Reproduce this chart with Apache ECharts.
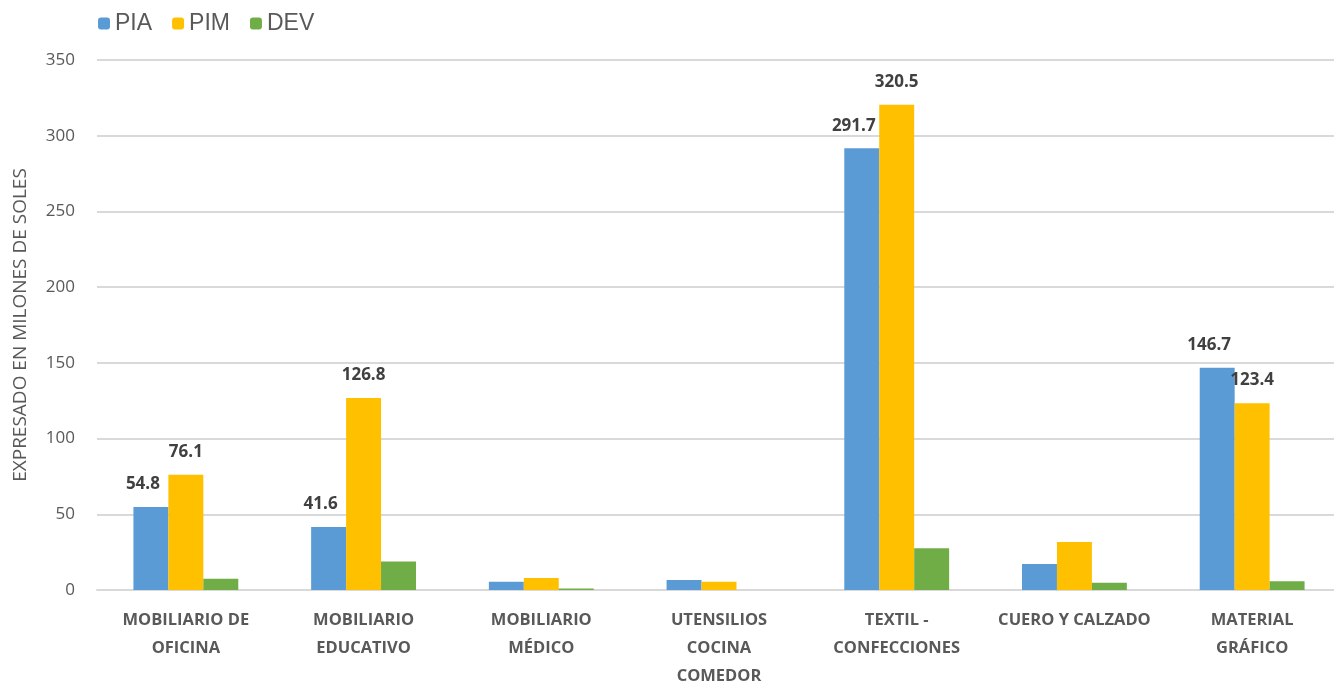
<!DOCTYPE html>
<html><head><meta charset="utf-8">
<script src="https://cdn.jsdelivr.net/npm/echarts@6/dist/echarts.min.js"></script>
<style>html,body{margin:0;padding:0;background:#fff}#c{width:1334px;height:685px}</style>
</head><body><div id="c"></div>
<script>
const categories = ['MOBILIARIO DE\nOFICINA','MOBILIARIO\nEDUCATIVO','MOBILIARIO\nMÉDICO','UTENSILIOS\nCOCINA\nCOMEDOR','TEXTIL -\nCONFECCIONES','CUERO Y CALZADO','MATERIAL\nGRÁFICO'];
const pia = [54.8, 41.6, 5.5, 6.6, 291.7, 17.2, 146.7];
const pim = [76.1, 126.8, 7.9, 5.5, 320.5, 31.7, 123.4];
const dev = [7.5, 18.8, 1.0, 0, 27.5, 4.8, 5.7];
const labeledPIA = [true, true, false, false, true, false, true];
const labeledPIM = [true, true, false, false, true, false, true];

const lbl = {show:true, position:'top', distance:14, fontSize:17, fontWeight:'bold', color:'#404040', fontFamily:'Open Sans', formatter: p => p.value.toFixed(1)};
function mk(vals, flags, off){
  return vals.map((v,i)=>({value:v, label: flags[i] ? Object.assign({}, lbl, {offset: off}) : {show:false}}));
}
const chart = echarts.init(document.getElementById('c'));
chart.setOption({
  animation:false,
  textStyle:{fontFamily:'Open Sans'},
  legend:{left:93, top:7, itemWidth:12, itemHeight:12, itemGap:20,
    textStyle:{fontSize:23, color:'#595959', fontFamily:'Liberation Sans'},
    data:['PIA','PIM','DEV']},
  grid:{left:97, right:-7, top:60, bottom:95, containLabel:false, outerBoundsMode:'none'},
  xAxis:{type:'category', data:categories,
    axisLine:{lineStyle:{color:'#d9d9d9', width:2}}, axisTick:{show:false},
    axisLabel:{interval:0, fontSize:16.5, fontWeight:'bold', color:'#595959', lineHeight:28, margin:16}},
  yAxis:{type:'value', min:0, max:350, interval:50,
    name:'EXPRESADO EN MILONES DE SOLES', nameLocation:'middle', nameGap:67, nameRotate:90,
    nameTextStyle:{fontSize:19, color:'#595959'},
    axisLine:{show:false}, axisTick:{show:false},
    axisLabel:{fontSize:17, color:'#595959', margin:22},
    splitLine:{lineStyle:{color:'#d9d9d9', width:2}}},
  series:[
    {name:'PIA', type:'bar', data:mk(pia, labeledPIA, [-8,0]), itemStyle:{color:'#5b9bd5'}, barGap:'0%', barCategoryGap:'41%'},
    {name:'PIM', type:'bar', data:mk(pim, labeledPIM, [0,0]), itemStyle:{color:'#ffc000'}},
    {name:'DEV', type:'bar', data:dev, itemStyle:{color:'#70ad47'}}
  ]
});
</script></body></html>
